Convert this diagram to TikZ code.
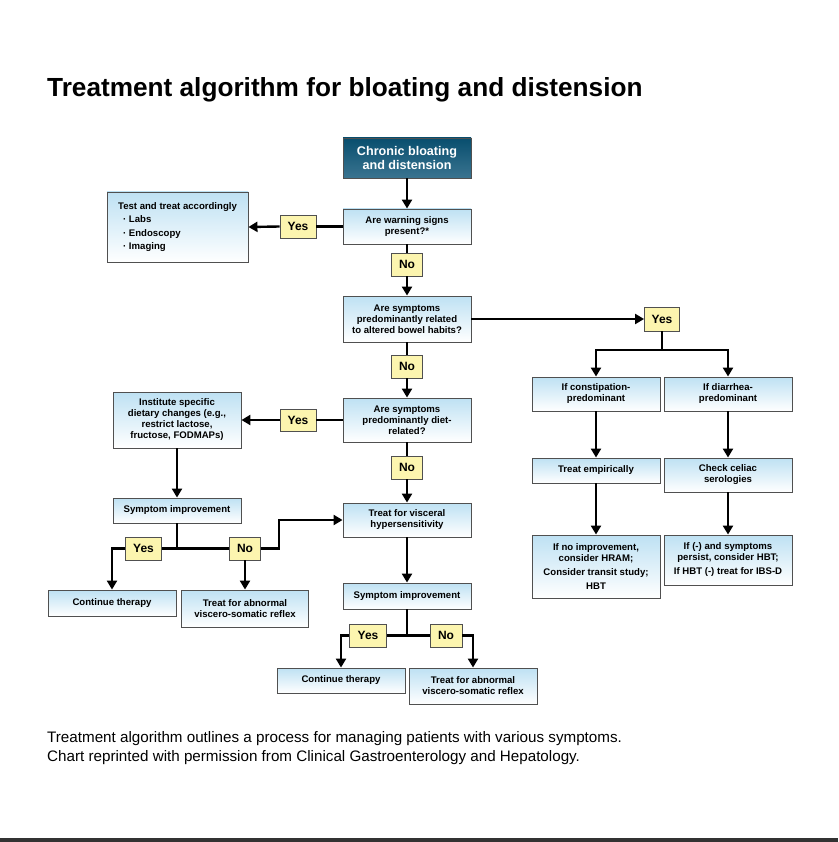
\documentclass[tikz,border=0pt]{standalone}
\usepackage{fontspec}
\setmainfont{Liberation Sans}
\usetikzlibrary{arrows.meta,calc}
\definecolor{boxtop}{RGB}{190,225,243}
\definecolor{boxline}{RGB}{80,80,80}
\definecolor{ynfill}{RGB}{252,245,175}
\definecolor{darktop}{RGB}{8,78,110}
\definecolor{darkbot}{RGB}{58,116,144}
\definecolor{barcol}{RGB}{50,50,50}
\begin{document}
\begin{tikzpicture}[x=1pt,y=-1pt,
  box/.style={draw=boxline, line width=0.9pt, top color=boxtop, bottom color=white,
    minimum width=128pt, inner sep=1pt, align=center,
    font=\bfseries\fontsize{9.6}{11}\selectfont},
  darkbox/.style={draw=boxline, line width=0.9pt, top color=darktop, bottom color=darkbot,
    minimum width=128pt, minimum height=40pt, align=center, text=white,
    font=\bfseries\fontsize{12.6}{13.5}\selectfont},
  yn/.style={draw=boxline, line width=0.9pt, fill=ynfill, inner sep=0pt,
    minimum height=23pt, font=\bfseries\fontsize{12}{14}\selectfont},
  conn/.style={line width=2.4pt, draw=black},
  arr/.style={conn, -{Triangle[length=9pt,width=10pt]}}
]
\useasboundingbox (0,0) rectangle (838,842);
\fill[barcol] (0,838) rectangle (838,842);

% title and caption
\node[anchor=base west, inner sep=0pt, font=\bfseries\fontsize{26.2}{30}\selectfont] (title) at (47,97)
  {Treatment algorithm for bloating and distension};
\node[anchor=base west, inner sep=0pt, font=\fontsize{15.2}{19}\selectfont] (cap1) at (47,742)
  {Treatment algorithm outlines a process for managing patients with various symptoms.};
\node[anchor=base west, inner sep=0pt, font=\fontsize{15.2}{19}\selectfont] (cap2) at (47,761)
  {Chart reprinted with permission from Clinical Gastroenterology and Hepatology.};

% main column
\node[darkbox] (chronic) at (407,158) {Chronic bloating\\and distension};
\node[box, minimum height=35pt] (warn) at (407,226.5) {Are warning signs\\present?*};
\node[box, minimum width=141pt, minimum height=70pt, align=left,
  font=\bfseries\fontsize{9.6}{13.5}\selectfont] (test) at (177.5,227)
  {Test and treat accordingly\\\hspace{5pt}· Labs\\\hspace{5pt}· Endoscopy\\\hspace{5pt}· Imaging};
\node[yn, minimum width=36pt] (yes1) at (298,226.5) {Yes};
\node[yn, minimum width=31pt] (no1) at (407,264.5) {No};
\node[box, minimum height=46pt] (bowel) at (407,319) {Are symptoms\\predominantly related\\to altered bowel habits?};
\node[yn, minimum width=35pt, minimum height=24pt] (yes2) at (662,319) {Yes};
\node[yn, minimum width=31pt] (no2) at (407,366.5) {No};
\node[box, minimum height=44pt] (diet) at (407,420) {Are symptoms\\predominantly diet-\\related?};
\node[yn, minimum width=36pt, minimum height=22pt] (yes3) at (298,420) {Yes};
\node[box, minimum height=56pt] (inst) at (177,420) {Institute specific\\dietary changes (e.g.,\\restrict lactose,\\fructose, FODMAPs)};
\node[yn, minimum width=31pt] (no3) at (407,467.5) {No};
\node[box, minimum height=34pt] (visc) at (407,520) {Treat for visceral\\hypersensitivity};
\node[box, minimum height=25pt] (sym1) at (177,510.5) {Symptom improvement};
\node[yn, minimum width=36pt] (yes4) at (143.5,548.5) {Yes};
\node[yn, minimum width=31pt] (no4) at (245,548.5) {No};
\node[box, minimum height=26pt] (cont1) at (112,603) {Continue therapy};
\node[box, minimum width=127pt, minimum height=37pt] (treat1) at (245,608.5) {Treat for abnormal\\viscero-somatic reflex};
\node[box, minimum height=26pt] (sym2) at (407,596) {Symptom improvement};
\node[yn, minimum width=37pt] (yes5) at (368,635.5) {Yes};
\node[yn, minimum width=32pt] (no5) at (446,635.5) {No};
\node[box, minimum height=25pt] (cont2) at (341,680.5) {Continue therapy};
\node[box, minimum height=36pt] (treat2) at (473,686) {Treat for abnormal\\viscero-somatic reflex};

% right column
\node[box, minimum height=34pt] (const) at (596,394) {If constipation-\\predominant};
\node[box, minimum height=34pt] (diar) at (728,394) {If diarrhea-\\predominant};
\node[box, minimum height=25pt] (emp) at (596,470.5) {Treat empirically};
\node[box, minimum height=34pt] (celiac) at (728,475) {Check celiac\\serologies};
\node[box, minimum height=63pt] (noimp) at (596,566.5) {If no improvement,\\consider HRAM;\\[3pt]Consider transit study;\\[3pt]HBT};
\node[box, minimum height=50pt] (neg) at (728,560) {If (-) and symptoms\\persist, consider HBT;\\[3pt]If HBT (-) treat for IBS-D};

% coordinates
\coordinate (split) at (662,350);
\coordinate (j1) at (177,548.5);
\coordinate (j1r) at (279,548.5);
\coordinate (j1u) at (279,520);
\coordinate (j2) at (407,635.5);

% connectors
\draw[arr] (chronic.south) -- (warn.north);
\draw[conn] (warn.west) -- (yes1.east);
\draw[arr] (yes1.west) -- (test.east);
\draw[conn] (warn.south) -- (no1.north);
\draw[arr] (no1.south) -- (bowel.north);
\draw[arr] (bowel.east) -- (yes2.west);
\draw[conn] (yes2.south) -- (split);
\draw[arr] (split) -| (const.north);
\draw[arr] (split) -| (diar.north);
\draw[conn] (bowel.south) -- (no2.north);
\draw[arr] (no2.south) -- (diet.north);
\draw[conn] (diet.west) -- (yes3.east);
\draw[arr] (yes3.west) -- (inst.east);
\draw[conn] (diet.south) -- (no3.north);
\draw[arr] (no3.south) -- (visc.north);
\draw[arr] (inst.south) -- (sym1.north);
\draw[conn] (sym1.south) -- (j1);
\draw[conn] (j1) -- (yes4.east);
\draw[arr] (yes4.west) -| (cont1.north);
\draw[conn] (j1) -- (no4.west);
\draw[arr] (no4.south) -- (treat1.north);
\draw[arr] (no4.east) -- (j1r) -- (j1u) -- (visc.west);
\draw[arr] (visc.south) -- (sym2.north);
\draw[conn] (sym2.south) -- (j2);
\draw[conn] (j2) -- (yes5.east);
\draw[arr] (yes5.west) -| (cont2.north);
\draw[conn] (j2) -- (no5.west);
\draw[arr] (no5.east) -| (treat2.north);
\draw[arr] (const.south) -- (emp.north);
\draw[arr] (emp.south) -- (noimp.north);
\draw[arr] (diar.south) -- (celiac.north);
\draw[arr] (celiac.south) -- (neg.north);
\end{tikzpicture}
\end{document}
